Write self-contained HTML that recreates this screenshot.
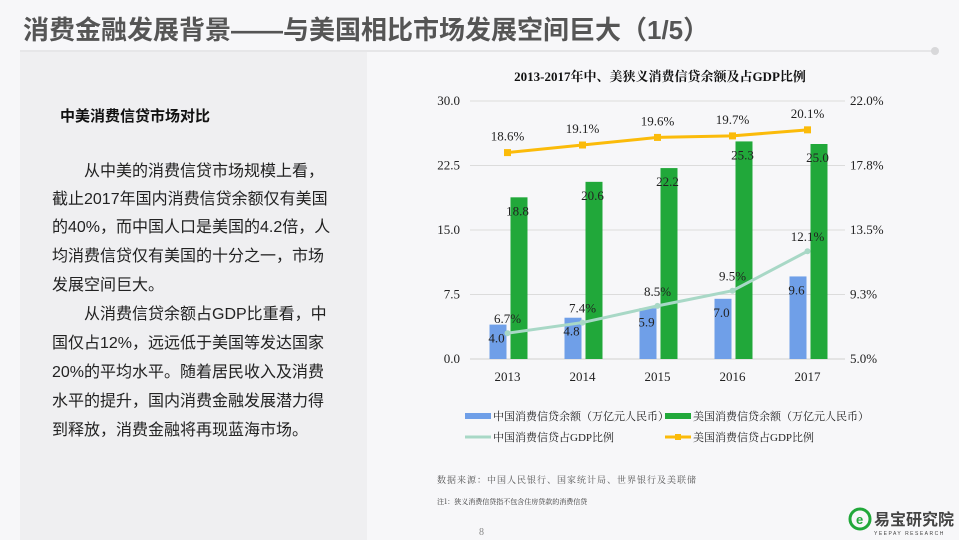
<!DOCTYPE html>
<html><head><meta charset="utf-8">
<style>
body{margin:0;width:959px;height:540px;background:#f7f7f9;position:relative;overflow:hidden;font-family:"Liberation Sans","Noto Sans CJK SC",sans-serif;}
.abs{position:absolute;white-space:nowrap;}
#title{left:23px;top:10px;font-size:26px;font-weight:bold;color:#555;}
#panel{left:20px;top:52px;width:347px;height:488px;background:#efeff1;}
.ln{position:absolute;left:52px;font-size:16px;color:#222;white-space:nowrap;line-height:20px;}
</style></head><body>
<div class="abs" id="title">消费金融发展背景——与美国相比市场发展空间巨大（1/5）</div>
<div class="abs" style="left:20px;top:50px;width:912px;height:2px;background:#e6e6e8"></div>
<div class="abs" style="left:931px;top:47px;width:8px;height:8px;border-radius:50%;background:#d8d8da"></div>
<div class="abs" id="panel"></div>
<div class="abs" style="left:60px;top:105px;font-size:15px;font-weight:bold;color:#111">中美消费信贷市场对比</div>
<div>
<div class="ln" style="top:162px;left:84px">从中美的消费信贷市场规模上看，</div>
<div class="ln" style="top:190px">截止2017年国内消费信贷余额仅有美国</div>
<div class="ln" style="top:218px">的40%，而中国人口是美国的4.2倍，人</div>
<div class="ln" style="top:247px">均消费信贷仅有美国的十分之一，市场</div>
<div class="ln" style="top:276px">发展空间巨大。</div>
<div class="ln" style="top:305px;left:84px">从消费信贷余额占GDP比重看，中</div>
<div class="ln" style="top:334px">国仅占12%，远远低于美国等发达国家</div>
<div class="ln" style="top:363px">20%的平均水平。随着居民收入及消费</div>
<div class="ln" style="top:392px">水平的提升，国内消费金融发展潜力得</div>
<div class="ln" style="top:421px">到释放，消费金融将再现蓝海市场。</div>
</div>

<svg class="abs" style="left:0;top:0" width="959" height="540">
<text x="660" y="81" font-size="13" font-weight="bold" text-anchor="middle" fill="#111" font-family="Liberation Serif,Noto Serif CJK SC,serif">2013-2017年中、美狭义消费信贷余额及占GDP比例</text>
<g id="grid"></g><g id="bars"></g><g id="lines"></g><g id="labels"></g>
<g id="legend" font-size="11" fill="#222" font-family="Liberation Serif,Noto Serif CJK SC,serif">
<rect x="465" y="413" width="26" height="6" fill="#6f9fe8"/>
<text x="493" y="420">中国消费信贷余额（万亿元人民币）</text>
<rect x="665" y="413" width="26" height="6" fill="#21a83a"/>
<text x="693" y="420">美国消费信贷余额（万亿元人民币）</text>
<line x1="465" y1="437" x2="491" y2="437" stroke="#a8d8c6" stroke-width="3"/>
<text x="493" y="441">中国消费信贷占GDP比例</text>
<line x1="665" y1="437" x2="691" y2="437" stroke="#fbbb0a" stroke-width="3"/>
<rect x="675" y="434" width="6" height="6" fill="#fbbb0a"/>
<text x="693" y="441">美国消费信贷占GDP比例</text>
</g>
<text x="437" y="483" font-size="9" fill="#555" font-family="Noto Serif CJK SC,serif" letter-spacing="1">数据来源：中国人民银行、国家统计局、世界银行及美联储</text>
<text x="437" y="504" font-size="7" fill="#333" font-family="Noto Serif CJK SC,serif">注1：狭义消费信贷指不包含住房贷款的消费信贷</text>
<text x="479" y="535" font-size="10" fill="#888" font-family="Liberation Serif,serif">8</text>
<circle cx="860" cy="519" r="10" fill="none" stroke="#21a83a" stroke-width="3"/>
<text x="856" y="524" font-size="13" font-weight="bold" fill="#21a83a">e</text>
<text x="874" y="525" font-size="16" font-weight="bold" fill="#444" font-family="Noto Sans CJK SC,sans-serif">易宝研究院</text>
<text x="874" y="535" font-size="5" fill="#444" letter-spacing="1.5">YEEPAY RESEARCH</text>
</svg>
<script>
const years=["2013","2014","2015","2016","2017"];
const chinaBal=[4.0,4.8,5.9,7.0,9.6];
const usBal=[18.8,20.6,22.2,25.3,25.0];
const chinaPct=[6.7,7.4,8.5,9.5,12.1];
const usPct=[18.6,19.1,19.6,19.7,20.1];
const leftTicks=["0.0","7.5","15.0","22.5","30.0"];
const rightTicks=["5.0%","9.3%","13.5%","17.8%","22.0%"];
const NS="http://www.w3.org/2000/svg";
const X0=470,X1=845,Y0=359,Y1=101;
const xC=i=>X0+(X1-X0)/years.length*(i+0.5);
const yL=v=>Y0-(v/30)*(Y0-Y1);
const yR=v=>Y0-((v-5)/17)*(Y0-Y1);
function mk(tag,attrs,parent){const e=document.createElementNS(NS,tag);for(const k in attrs)e.setAttribute(k,attrs[k]);document.getElementById(parent).appendChild(e);return e;}
function tx(s,x,y,anchor,parent,size){const t=mk('text',{x:x,y:y,'text-anchor':anchor,'font-size':size||13,fill:'#222','font-family':'Liberation Serif,serif'},parent);t.textContent=s;return t;}
leftTicks.forEach((s,i)=>{const y=Y0-i*(Y0-Y1)/4;
 const l=mk('line',{x1:X0,x2:X1,y1:y,y2:y,stroke:i==0?'#d0d0d0':'#dcdcdc','stroke-width':1},'grid');
 
 
 const t=tx(s,460,y+4,'end','grid');
 
 
 const r=tx(rightTicks[i],850,y+4,'start','grid');
 
 });
years.forEach((yr,i)=>{const c=xC(i);
 const t=tx(yr,c,381,'middle','grid');
 
 
 const b1=mk('rect',{x:c-18,y:yL(chinaBal[i]),width:17,height:Y0-yL(chinaBal[i]),fill:'#6f9fe8'},'bars');
 
 
 const b2=mk('rect',{x:c+3,y:yL(usBal[i]),width:17,height:Y0-yL(usBal[i]),fill:'#21a83a'},'bars');
 
 
 tx(chinaBal[i].toFixed(1),c-11,yL(chinaBal[i])+18,'middle','labels');
 tx(usBal[i].toFixed(1),c+10,yL(usBal[i])+18,'middle','labels');
 tx(chinaPct[i].toFixed(1)+'%',c,yR(chinaPct[i])-10,'middle','labels');
 tx(usPct[i].toFixed(1)+'%',c,yR(usPct[i])-12,'middle','labels');
});
const pc=mk('polyline',{points:chinaPct.map((v,i)=>xC(i)+','+yR(v)).join(' '),fill:'none',stroke:'#a8d8c6','stroke-width':3},'lines');


const pu=mk('polyline',{points:usPct.map((v,i)=>xC(i)+','+yR(v)).join(' '),fill:'none',stroke:'#fbbb0a','stroke-width':3},'lines');


years.forEach((yr,i)=>{
 const m=mk('rect',{x:xC(i)-3.5,y:yR(usPct[i])-3.5,width:7,height:7,fill:'#fbbb0a'},'lines');
 
 
 const d=mk('circle',{cx:xC(i),cy:yR(chinaPct[i]),r:3,fill:'#a8d8c6'},'lines');
 
 
});
</script>
</body></html>
